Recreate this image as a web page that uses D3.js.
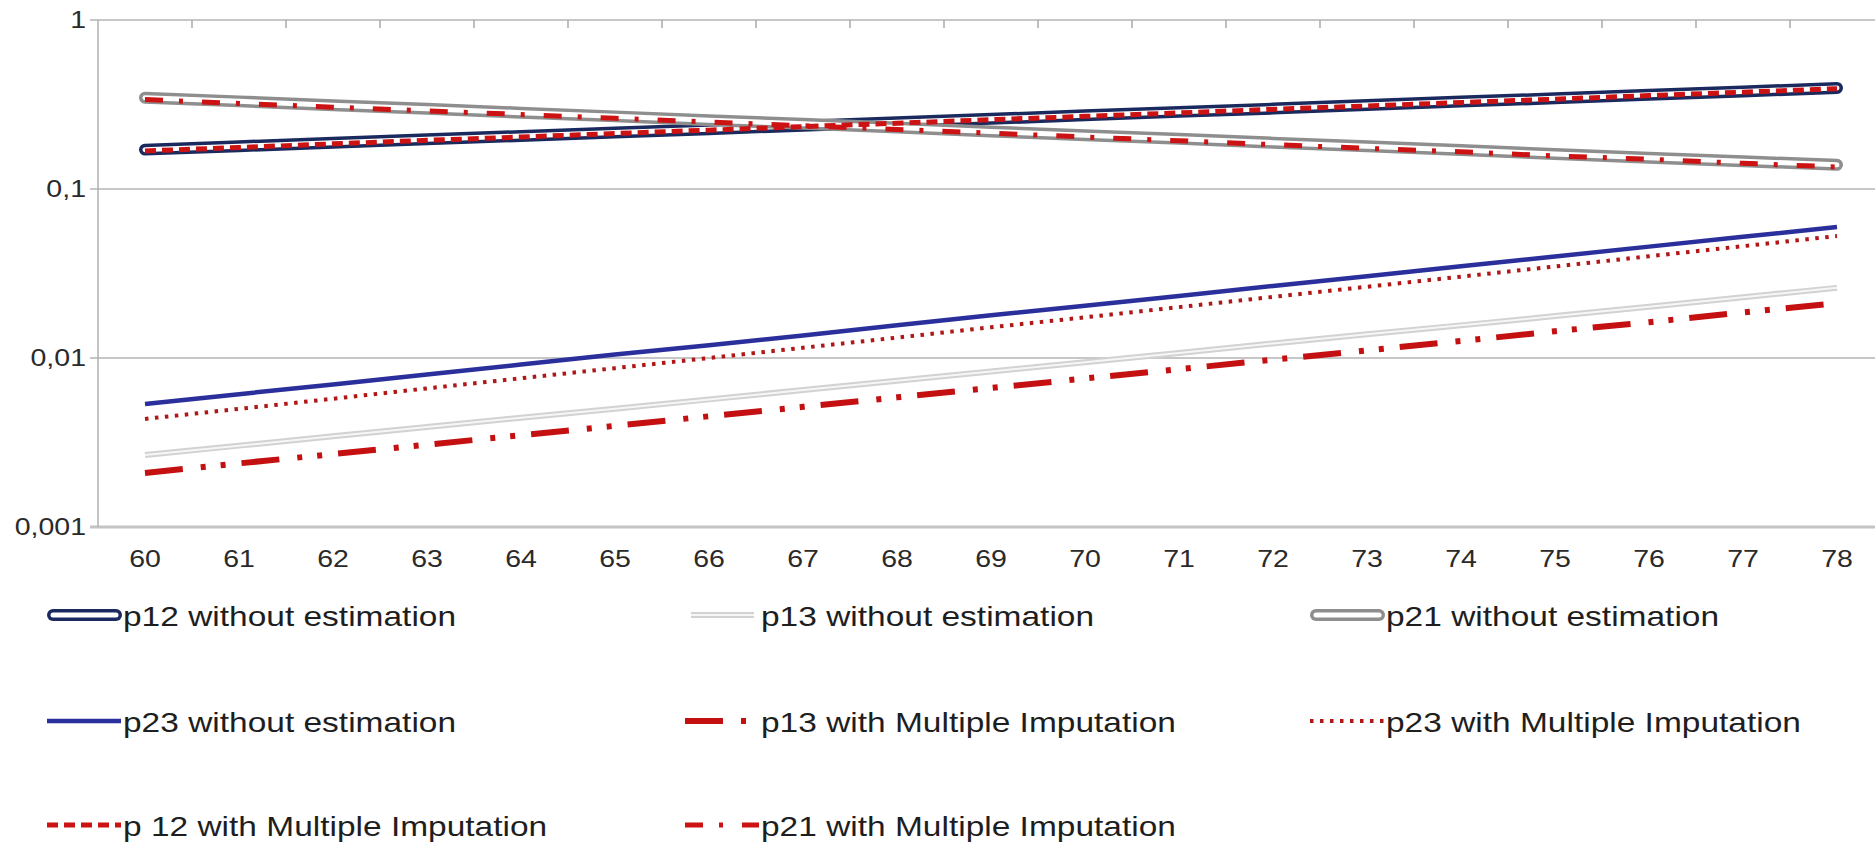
<!DOCTYPE html>
<html lang="en">
<head>
<meta charset="UTF-8">
<title>Transition probabilities</title>
<script src="https://cdn.jsdelivr.net/npm/d3@7/dist/d3.min.js"></script>
<style>
  body { margin: 0; background: #fff; }
  text { font-family: "Liberation Sans", Arial, sans-serif; fill: #1e1e1e; }
</style>
</head>
<body>
<div id="chart"></div>
<script>
// ages on the x axis
const ages = [60, 61, 62, 63, 64, 65, 66, 67, 68, 69, 70, 71, 72, 73, 74, 75, 76, 77, 78]
const yTicks = [1, 0.1, 0.01, 0.001]
const yTickLabels = ["1", "0,1", "0,01", "0,001"]

// values
const p12 = [0.171, 0.179, 0.188, 0.197, 0.206, 0.216, 0.226, 0.237, 0.248, 0.260, 0.273, 0.286, 0.299, 0.314, 0.329, 0.344, 0.361, 0.378, 0.396]
const p13 = [0.00267, 0.00303, 0.00344, 0.00390, 0.00443, 0.00501, 0.00569, 0.00646, 0.00733, 0.00832, 0.00944, 0.0107, 0.0122, 0.0138, 0.0156, 0.0177, 0.0201, 0.0229, 0.0260]
const p21 = [0.347, 0.330, 0.313, 0.298, 0.283, 0.269, 0.255, 0.243, 0.231, 0.219, 0.208, 0.198, 0.188, 0.179, 0.170, 0.161, 0.153, 0.146, 0.139]
const p23 = [0.00535, 0.00611, 0.00698, 0.00799, 0.00914, 0.0105, 0.0119, 0.0136, 0.0156, 0.0179, 0.0204, 0.0233, 0.0267, 0.0305, 0.0349, 0.0399, 0.0456, 0.0521, 0.0596]
const p13MI = [0.00209, 0.00238, 0.00270, 0.00307, 0.00349, 0.00397, 0.00452, 0.00514, 0.00585, 0.00665, 0.00756, 0.00859, 0.00977, 0.0111, 0.0126, 0.0144, 0.0163, 0.0186, 0.0211]
const p23MI = [0.00436, 0.00500, 0.00574, 0.00661, 0.00759, 0.00871, 0.0100, 0.0115, 0.0132, 0.0152, 0.0174, 0.0200, 0.0230, 0.0264, 0.0303, 0.0348, 0.0400, 0.0459, 0.0527]
const p12MI = [0.168, 0.176, 0.185, 0.194, 0.203, 0.213, 0.223, 0.234, 0.245, 0.257, 0.269, 0.282, 0.296, 0.310, 0.325, 0.340, 0.357, 0.374, 0.392]
const p21MI = [0.338, 0.321, 0.305, 0.290, 0.276, 0.262, 0.249, 0.237, 0.225, 0.214, 0.203, 0.193, 0.183, 0.174, 0.166, 0.157, 0.150, 0.142, 0.135]

const seriesNames = ["p12 without estimation", "p13 without estimation", "p21 without estimation",
    "p23 without estimation", "p13 with Multiple Imputation", "p23 with Multiple Imputation",
    "p 12 with Multiple Imputation", "p21 with Multiple Imputation"]
const seriesValues = [p12, p13, p21, p23, p13MI, p23MI, p12MI, p21MI]

// how each series is stroked (double lines get an inner stroke)
const styles = [
    {color: "#1b2a5e", width: 12, inner: "#fff", innerWidth: 5, cap: "round"},
    {color: "#d2d2d2", width: 6, inner: "#f6f6f6", innerWidth: 2, cap: "butt"},
    {color: "#8e8e8e", width: 12, inner: "#fff", innerWidth: 5, cap: "round"},
    {color: "#2a2f9c", width: 4.5, cap: "butt"},
    {color: "#c41010", width: 6, dash: "38,18,5,15,5,16", cap: "butt"},
    {color: "#b01818", width: 4, dash: "3.5,6.5", cap: "butt"},
    {color: "#cc1212", width: 5, dash: "11,6", cap: "butt"},
    {color: "#cc1212", width: 5, dash: "18,16,4,19", cap: "butt"}
]

let width = 1875
let height = 842
let plotLeft = 98
let plotTop = 20
let plotBottom = 527
let stretch = 1.24

let svg = d3.select("#chart").append("svg")
    .attr("width", width)
    .attr("height", height)

let x = d3.scaleBand()
    .domain(ages)
    .range([plotLeft, plotLeft + ages.length * 94])
let y = d3.scaleLog()
    .domain([0.001, 1])
    .range([plotBottom, plotTop])

let cx = d => x(d) + x.bandwidth() / 2

// gridlines
svg.append("g")
    .selectAll("line")
    .data(yTicks)
    .enter()
    .append("line")
    .attr("x1", plotLeft - 8)
    .attr("x2", width)
    .attr("y1", d => y(d))
    .attr("y2", d => y(d))
    .attr("stroke", d => d === 0.001 ? "#c4c4c4" : "#b4b4b4")
    .attr("stroke-width", d => d === 0.001 ? 3 : 1.5)

// left axis line
svg.append("line")
    .attr("x1", plotLeft).attr("x2", plotLeft)
    .attr("y1", plotTop).attr("y2", plotBottom)
    .attr("stroke", "#b0b0b0")
    .attr("stroke-width", 1.5)

// small ticks hanging from the top border
svg.append("g")
    .selectAll("line")
    .data(ages.slice(1))
    .enter()
    .append("line")
    .attr("x1", d => x(d))
    .attr("x2", d => x(d))
    .attr("y1", plotTop)
    .attr("y2", plotTop + 8)
    .attr("stroke", "#aaa")
    .attr("stroke-width", 1.5)

// y labels
svg.append("g")
    .selectAll("text")
    .data(yTicks)
    .enter()
    .append("text")
    .attr("transform", d => "translate(" + 86 + "," + y(d) + ") scale(" + stretch + ",1)")
    .attr("text-anchor", "end")
    .attr("dominant-baseline", "central")
    .style("font-size", "23px")
    .style("fill", "#2a2a2a")
    .text((d, i) => yTickLabels[i])

// x labels
svg.append("g")
    .selectAll("text")
    .data(ages)
    .enter()
    .append("text")
    .attr("transform", d => "translate(" + cx(d) + "," + 559 + ") scale(" + stretch + ",1)")
    .attr("text-anchor", "middle")
    .attr("dominant-baseline", "central")
    .style("font-size", "23px")
    .style("fill", "#2a2a2a")
    .text(d => d)

let line = d3.line()
    .x((d, i) => cx(ages[i]))
    .y(d => y(d))

let plot = svg.append("g")
seriesValues.forEach(function (vals, i) {
    let s = styles[i]
    plot.append("path")
        .attr("d", line(vals))
        .attr("fill", "none")
        .attr("stroke", s.color)
        .attr("stroke-width", s.width)
        .attr("stroke-linecap", s.cap)
        .attr("stroke-dasharray", s.dash || null)
    if (s.inner) {
        plot.append("path")
            .attr("d", line(vals))
            .attr("fill", "none")
            .attr("stroke", s.inner)
            .attr("stroke-width", s.innerWidth)
            .attr("stroke-linecap", s.cap)
    }
})

// legend, 3 columns x 3 rows
let colX = [123, 761, 1386]
let rowY = [615, 721, 825]
let sampleLen = 76

let legend = svg.append("g")
seriesNames.forEach(function (name, i) {
    let s = styles[i]
    let lx = colX[i % 3]
    let ly = rowY[Math.floor(i / 3)]
    let x0 = lx - sampleLen
    let x1 = lx - 2
    if (s.inner) {
        x0 += 6
        x1 -= 5
    }
    legend.append("line")
        .attr("x1", x0).attr("x2", x1)
        .attr("y1", ly).attr("y2", ly)
        .attr("stroke", s.color)
        .attr("stroke-width", s.width)
        .attr("stroke-linecap", s.cap)
        .attr("stroke-dasharray", s.dash || null)
    if (s.inner) {
        legend.append("line")
            .attr("x1", x0).attr("x2", x1)
            .attr("y1", ly).attr("y2", ly)
            .attr("stroke", s.inner)
            .attr("stroke-width", s.innerWidth)
            .attr("stroke-linecap", s.cap)
    }
    legend.append("text")
        .attr("transform", "translate(" + lx + "," + (ly + 1) + ") scale(" + stretch + ",1)")
        .attr("dominant-baseline", "central")
        .style("font-size", "27px")
        .text(name)
})
</script>
</body>
</html>
